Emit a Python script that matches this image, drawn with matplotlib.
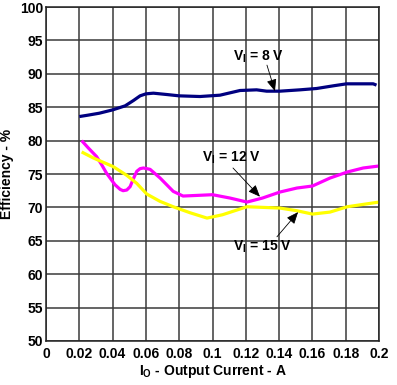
import matplotlib
matplotlib.use("Agg")
import matplotlib.pyplot as plt

plt.rcParams['font.family'] = ['Liberation Sans', 'DejaVu Sans']
plt.rcParams['font.weight'] = 'bold'
plt.rcParams['mathtext.fontset'] = 'custom'
plt.rcParams['mathtext.bf'] = 'Liberation Sans:bold'
plt.rcParams['mathtext.rm'] = 'Liberation Sans:bold'

x_tick_labels = ['0', '0.02', '0.04', '0.06', '0.08', '0.1', '0.12', '0.14', '0.16', '0.18', '0.2']
x_ticks = [0, 0.02, 0.04, 0.06, 0.08, 0.1, 0.12, 0.14, 0.16, 0.18, 0.2]
y_ticks = [50, 55, 60, 65, 70, 75, 80, 85, 90, 95, 100]

x_8v = [0.02, 0.025, 0.032, 0.04, 0.0475, 0.0525, 0.0565, 0.06, 0.0645, 0.0725, 0.08,
        0.0925, 0.1045, 0.1165, 0.1265, 0.1325, 0.1405, 0.1525, 0.1625, 0.1725, 0.1805,
        0.1965, 0.1985]
y_8v = [83.6, 83.8, 84.1, 84.6, 85.2, 86.0, 86.7, 87.0, 87.1, 86.9, 86.7,
        86.6, 86.8, 87.5, 87.6, 87.4, 87.4, 87.6, 87.8, 88.2, 88.5,
        88.5, 88.3]

x_12v = [0.0214, 0.0254, 0.0304, 0.0334, 0.0364, 0.0414, 0.0445, 0.0463, 0.0485, 0.0505,
         0.0525, 0.0545, 0.0565, 0.0585, 0.0625, 0.0685, 0.0764, 0.0823, 0.1, 0.1105,
         0.1207, 0.13, 0.1405, 0.1507, 0.16, 0.1706, 0.181, 0.1905, 0.2]
y_12v = [80.0, 78.9, 77.6, 76.4, 75.1, 73.4, 72.7, 72.5, 72.6, 73.1,
         74.3, 75.4, 75.8, 75.9, 75.7, 74.4, 72.4, 71.7, 71.9, 71.4,
         70.8, 71.4, 72.3, 72.9, 73.2, 74.4, 75.3, 75.9, 76.2]

x_15v = [0.0214, 0.0284, 0.0404, 0.0485, 0.0545, 0.0605, 0.0685, 0.0764, 0.0865, 0.0967,
         0.106, 0.1207, 0.1405, 0.1507, 0.16, 0.1706, 0.181, 0.2]
y_15v = [78.3, 77.4, 76.1, 74.8, 73.6, 72.0, 70.9, 70.1, 69.2, 68.4,
         68.9, 70.1, 69.9, 69.5, 69.0, 69.3, 70.1, 70.8]

fig = plt.figure(figsize=(3.97, 3.85), dpi=100)
ax = fig.add_axes([0.1159, 0.1143, 0.9547 - 0.1159, 0.9818 - 0.1143])

ax.set_xlim(0, 0.2)
ax.set_ylim(50, 100)
ax.set_xticks(x_ticks)
ax.set_xticklabels(x_tick_labels)
ax.set_yticks(y_ticks)
ax.tick_params(length=0, labelsize=10, pad=4)
ax.tick_params(axis='y', pad=2)
for lab in ax.get_xticklabels() + ax.get_yticklabels():
    lab.set_fontweight('bold')

ax.grid(True, color='#3a3a3a', linewidth=1.1)
ax.set_axisbelow(True)
for s in ax.spines.values():
    s.set_color('#222222')
    s.set_linewidth(1.1)

line_kw = dict(linewidth=2.3, solid_capstyle='butt', solid_joinstyle='round')
ax.plot(x_8v, y_8v, color='#000080', **line_kw)
ax.plot(x_12v, y_12v, color='#ff00ff', **line_kw)
ax.plot(x_15v, y_15v, color='#ffff00', **line_kw)

arrow = dict(arrowstyle='-|>,head_length=0.6,head_width=0.25', color='black', lw=0.6,
             mutation_scale=12, shrinkA=0, shrinkB=0)
ax.text(0.1279, 92.5, r'V$_\mathbf{I}$ = 8 V', ha='center', va='center', fontsize=10, fontweight='bold')
ax.annotate('', xy=(0.1375, 87.4), xytext=(0.1327, 91.3), arrowprops=arrow)
ax.text(0.1111, 77.4, r'V$_\mathbf{I}$ = 12 V', ha='center', va='center', fontsize=10, fontweight='bold')
ax.annotate('', xy=(0.1285, 71.6), xytext=(0.1123, 75.9), arrowprops=arrow)
ax.text(0.1297, 64.1, r'V$_\mathbf{I}$ = 15 V', ha='center', va='center', fontsize=10, fontweight='bold')
ax.annotate('', xy=(0.1514, 69.3), xytext=(0.1387, 65.6), arrowprops=arrow)

ax.set_xlabel(r'I$_\mathbf{O}$ - Output Current - A', fontsize=10, fontweight='bold', labelpad=2)
ax.set_ylabel('Efficiency - %', fontsize=10, fontweight='bold', labelpad=4)

fig.savefig('out.png', dpi=100)
